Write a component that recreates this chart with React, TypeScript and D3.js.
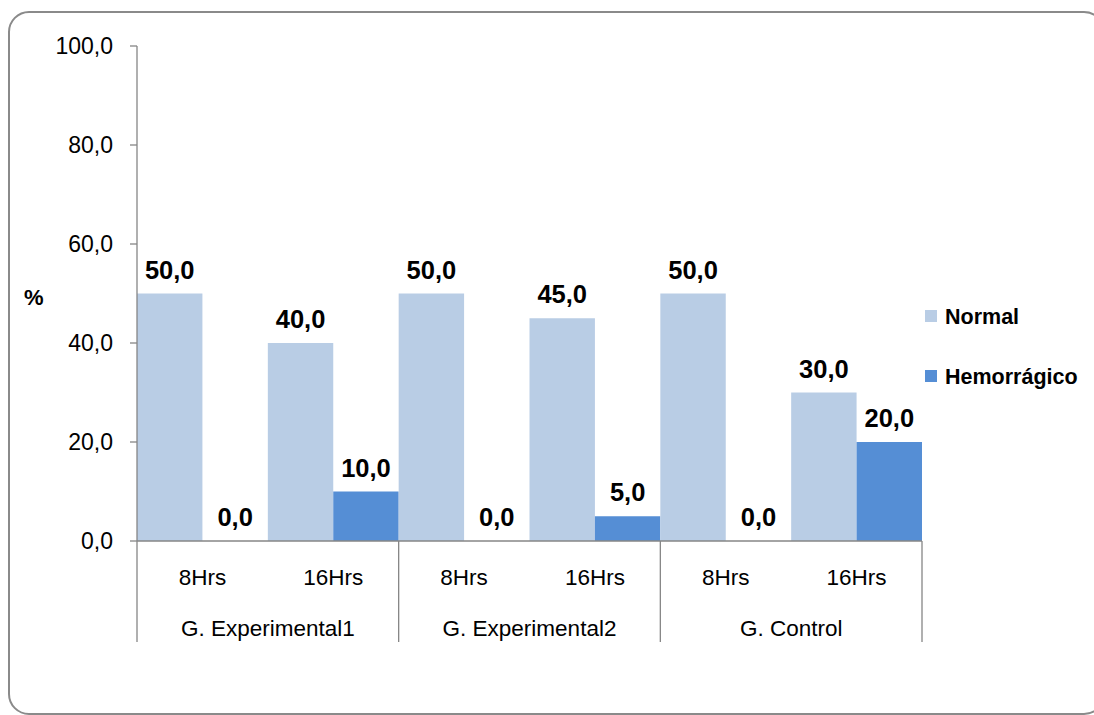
import React from "react";
import * as d3 from "d3";

// Chart data
const groups = ["G. Experimental1", "G. Experimental2", "G. Control"];
const times = ["8Hrs", "16Hrs"];
const seriesNames = ["Normal", "Hemorrágico"];
const normalValues = [50.0, 40.0, 50.0, 45.0, 50.0, 30.0];
const hemorragicoValues = [0.0, 10.0, 0.0, 5.0, 0.0, 20.0];
const yTickValues = [0, 20, 40, 60, 80, 100];

const seriesColors = ["#B9CDE5", "#558ED5"];

const W = 1094;
const H = 715;
const plot = { left: 137, right: 922, top: 46, bottom: 541 };
const FONT = "'Liberation Sans', Arial, sans-serif";

const fmt = (v: number) => d3.format(".1f")(v).replace(".", ",");

export default function App() {
  const cats = groups.flatMap((g) => times.map((t) => `${g}|${t}`));
  const x = d3.scaleBand<string>().domain(cats).range([plot.left, plot.right]).padding(0);
  const xInner = d3
    .scaleBand<string>()
    .domain(seriesNames)
    .range([0, x.bandwidth()])
    .padding(0);
  const y = d3.scaleLinear().domain([0, 100]).range([plot.bottom, plot.top]);

  const values = [normalValues, hemorragicoValues];
  const groupWidth = x.bandwidth() * times.length;
  const sepBottom = 642;

  return (
    <svg
      width={W}
      height={H}
      style={{ position: "absolute", left: 0, top: 0, background: "#fff" }}
      fontFamily={FONT}
    >
      <rect x={9} y={12} width={1095} height={702} rx={20} ry={20} fill="#fff" stroke="#8a8a8a" strokeWidth={2} />

      {/* bars */}
      {cats.map((c, i) =>
        seriesNames.map((s, si) => {
          const v = values[si][i];
          const bx = (x(c) as number) + (xInner(s) as number);
          return (
            <rect
              key={`${c}-${s}`}
              x={bx}
              y={y(v)}
              width={xInner.bandwidth()}
              height={y(0) - y(v)}
              fill={seriesColors[si]}
            />
          );
        })
      )}

      {/* data labels */}
      {cats.map((c, i) =>
        seriesNames.map((s, si) => {
          const v = values[si][i];
          const cx = (x(c) as number) + (xInner(s) as number) + xInner.bandwidth() / 2;
          return (
            <text
              key={`l-${c}-${s}`}
              x={cx}
              y={y(v) - 15}
              textAnchor="middle"
              fontSize={25.5}
              fontWeight="bold"
              fill="#000"
            >
              {fmt(v)}
            </text>
          );
        })
      )}

      {/* y axis */}
      <line x1={plot.left} x2={plot.left} y1={plot.top} y2={sepBottom} stroke="#868686" strokeWidth={1.3} />
      {yTickValues.map((t) => (
        <g key={`yt-${t}`}>
          <line x1={plot.left - 7} x2={plot.left} y1={y(t)} y2={y(t)} stroke="#868686" strokeWidth={1.3} />
          <text x={113} y={y(t)} dy="0.36em" textAnchor="end" fontSize={23} fill="#000">
            {fmt(t)}
          </text>
        </g>
      ))}

      {/* x axis */}
      <line x1={plot.left} x2={plot.right} y1={y(0)} y2={y(0)} stroke="#868686" strokeWidth={1.3} />
      {groups.map((g, gi) => {
        const gx = plot.left + gi * groupWidth;
        return (
          <g key={`g-${g}`}>
            <line x1={gx + groupWidth} x2={gx + groupWidth} y1={y(0)} y2={sepBottom} stroke="#868686" strokeWidth={1.3} />
            <text x={gx + groupWidth / 2} y={628} dy="0.36em" textAnchor="middle" fontSize={22.5} fill="#000">
              {g}
            </text>
          </g>
        );
      })}
      {cats.map((c) => (
        <text
          key={`t-${c}`}
          x={(x(c) as number) + x.bandwidth() / 2}
          y={577}
          dy="0.36em"
          textAnchor="middle"
          fontSize={22.5}
          fill="#000"
        >
          {c.split("|")[1]}
        </text>
      ))}

      {/* y axis title */}
      <text x={24} y={297} dy="0.36em" fontSize={22} fontWeight="bold" fill="#000">
        %
      </text>

      {/* legend */}
      {seriesNames.map((s, si) => (
        <g key={`lg-${s}`} transform={`translate(925, ${316 + si * 60})`}>
          <rect x={0} y={-6} width={12} height={12} fill={seriesColors[si]} />
          <text x={20} y={0} dy="0.36em" fontSize={21.5} fontWeight="bold" fill="#000">
            {s}
          </text>
        </g>
      ))}
    </svg>
  );
}
